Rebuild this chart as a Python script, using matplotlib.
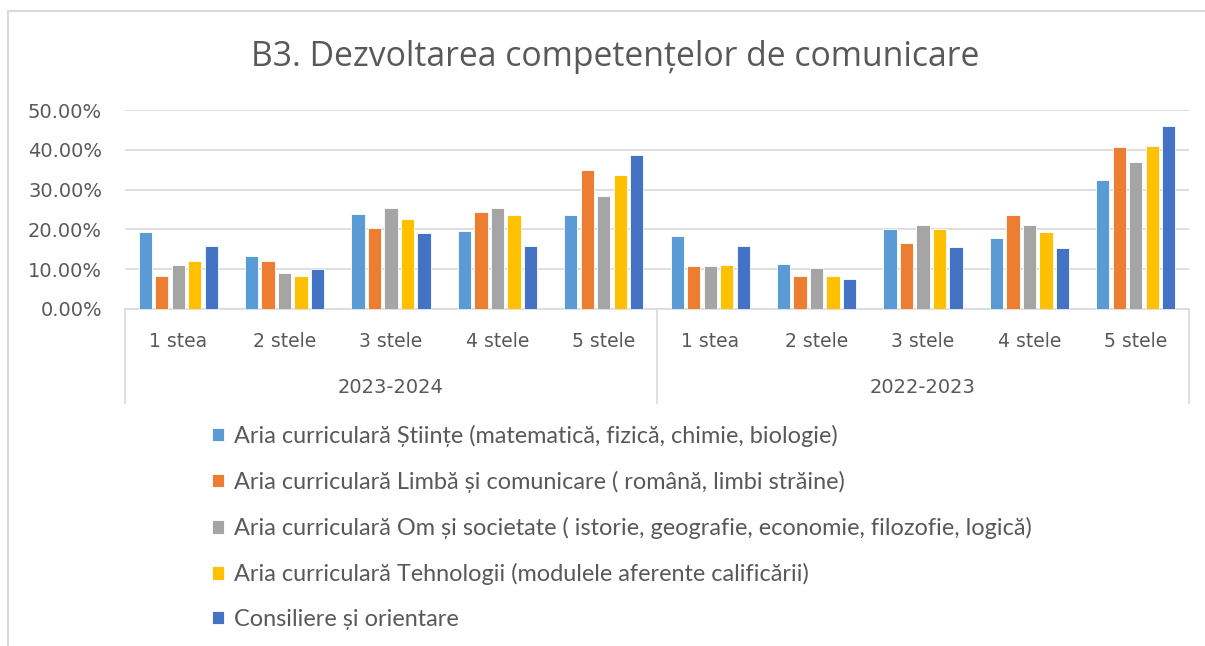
import numpy as np
import matplotlib.pyplot as plt
from matplotlib.patches import Rectangle
import matplotlib.transforms as mtransforms

plt.rcParams['font.family'] = ['Lato', 'DejaVu Sans']

# data
years = ['2023-2024', '2022-2023']
stars = ['1 stea', '2 stele', '3 stele', '4 stele', '5 stele']
series = ['Aria curriculară Științe (matematică, fizică, chimie, biologie)',
          'Aria curriculară Limbă și comunicare ( română, limbi străine)',
          'Aria curriculară Om și societate ( istorie, geografie, economie, filozofie, logică)',
          'Aria curriculară Tehnologii (modulele aferente calificării)',
          'Consiliere și orientare']
colors = ['#5B9BD5', '#ED7D31', '#A5A5A5', '#FFC000', '#4472C4']

stiinte   = [0.194, 0.133, 0.239, 0.197, 0.236,  0.182, 0.113, 0.201, 0.178, 0.324]
limba     = [0.082, 0.120, 0.204, 0.243, 0.350,  0.107, 0.082, 0.166, 0.236, 0.408]
om_soc    = [0.110, 0.091, 0.255, 0.255, 0.285,  0.107, 0.103, 0.210, 0.210, 0.370]
tehnologii = [0.120, 0.082, 0.227, 0.236, 0.336,  0.110, 0.082, 0.201, 0.194, 0.411]
consiliere = [0.159, 0.100, 0.191, 0.159, 0.388,  0.159, 0.075, 0.155, 0.152, 0.460]
values = [stiinte, limba, om_soc, tehnologii, consiliere]

W, H = 1205, 646
fig = plt.figure(figsize=(W / 100, H / 100), dpi=100)

# outer chart border (only top and left visible)
fig.patches.append(Rectangle((8 / W, -0.1), 1.2, 1 - 11 / H + 0.1, transform=fig.transFigure,
                             fill=False, edgecolor='#D9D9D9', linewidth=1.5))

ax = fig.add_axes([125 / W, 1 - 308.7 / H, (1189 - 125) / W, (308.7 - 110.3) / H])

x = np.arange(len(years) * len(stars))
step = 0.155
bw = 0.125
bars = []
for i, (vals, c) in enumerate(zip(values, colors)):
    b = ax.bar(x + (i - 2) * step, vals, width=bw, color=c, edgecolor='white',
               linewidth=0.6, zorder=3)
    bars.append(b)

ax.set_xlim(-0.5, len(x) - 0.5)
ax.set_ylim(0, 0.5)
yt = np.arange(0, 0.51, 0.1)
ax.set_yticks(yt)
ax.set_yticklabels([f'{v * 100:.2f}%' for v in yt], family='DejaVu Sans')
ax.grid(axis='y', color='#D9D9D9', linewidth=1.2, zorder=0)
for s in ['top', 'right', 'left']:
    ax.spines[s].set_visible(False)
ax.spines['bottom'].set_color('#D9D9D9')
ax.spines['bottom'].set_linewidth(1.2)
ax.tick_params(axis='y', length=0, pad=16.5, labelsize=14, labelcolor='#595959')
ax.set_xticks(x)
ax.set_xticklabels(stars * len(years), family='DejaVu Sans')
ax.tick_params(axis='x', length=0, pad=16.5, labelsize=13.5, labelcolor='#595959')

trans = mtransforms.blended_transform_factory(ax.transData, ax.transAxes)
axh = 308.7 - 110.3
for xs in [-0.5, 4.5, 9.5]:
    ax.plot([xs, xs], [0, -94 / axh], transform=trans, color='#D9D9D9',
            linewidth=1.2, clip_on=False)
for g, name in enumerate(years):
    ax.text(g * 5 + 2, -79 / axh, name, transform=trans, ha='center', va='center',
            fontsize=14, color='#595959', family='DejaVu Sans')

fig.text(615 / W, 1 - 57 / H, 'B3. Dezvoltarea competențelor de comunicare',
         ha='center', va='center', fontsize=24.3, color='#595959', family='Open Sans')

fig.legend(bars, series, loc='upper left', bbox_to_anchor=(212 / W, 1 - 425 / H),
           frameon=False, fontsize=16.9, labelcolor='#595959', handlelength=0.5,
           handleheight=0.5, handletextpad=0.45, labelspacing=1.02, borderpad=0,
           borderaxespad=0)

plt.savefig('out.png', dpi=100)
